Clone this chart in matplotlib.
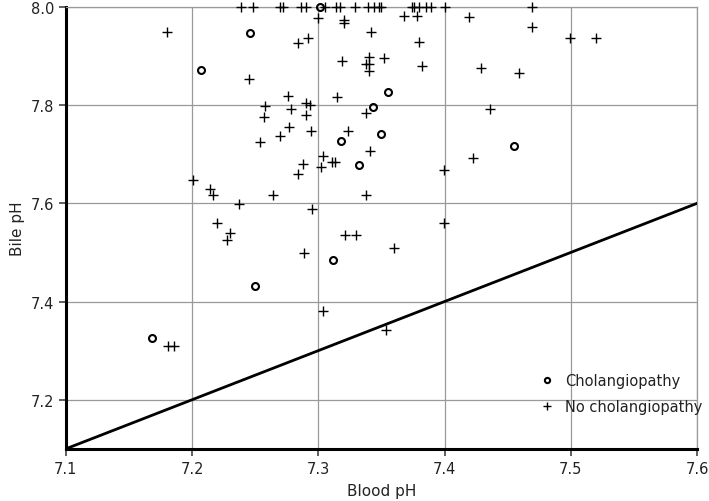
import numpy as np
import matplotlib
matplotlib.use('Agg')
import matplotlib.pyplot as plt

# dados (pH sangue x pH bile)
chol_blood = [7.168, 7.207, 7.246, 7.301, 7.318, 7.355, 7.343, 7.350, 7.455, 7.332, 7.312, 7.250]
chol_bile = [7.326, 7.872, 7.947, 8.000, 7.728, 7.827, 7.797, 7.741, 7.716, 7.679, 7.484, 7.431]

# pontos no topo (bile pH = 8.0)
top_blood = [7.239, 7.248, 7.270, 7.272, 7.286, 7.290, 7.305, 7.314, 7.317, 7.329, 7.339,
             7.344, 7.348, 7.350, 7.374, 7.376, 7.380, 7.385, 7.389, 7.400, 7.469]

nochol_blood = [7.180, 7.245, 7.284, 7.292, 7.300, 7.320, 7.320, 7.368, 7.378, 7.419,
                7.342, 7.380, 7.319, 7.340, 7.3375, 7.340, 7.340, 7.352, 7.382, 7.4285,
                7.459, 7.469, 7.4995, 7.520, 7.276, 7.290, 7.293, 7.315, 7.258, 7.278,
                7.257, 7.290, 7.277, 7.270, 7.294, 7.254, 7.3375, 7.4364, 7.3235, 7.3406,
                7.4224, 7.304, 7.288, 7.311, 7.313, 7.302, 7.284, 7.3995, 7.2005, 7.2145,
                7.2164, 7.237, 7.264, 7.3375, 7.220, 7.230, 7.228, 7.295, 7.3995, 7.3214,
                7.3296, 7.3596, 7.289, 7.3037, 7.354, 7.181, 7.186]
nochol_bile = [7.949, 7.854, 7.927, 7.936, 7.978, 7.973, 7.968, 7.982, 7.982, 7.979,
               7.950, 7.928, 7.890, 7.899, 7.883, 7.883, 7.870, 7.897, 7.880, 7.875,
               7.866, 7.959, 7.937, 7.937, 7.818, 7.805, 7.801, 7.816, 7.799, 7.792,
               7.775, 7.780, 7.756, 7.738, 7.748, 7.726, 7.785, 7.792, 7.747, 7.706,
               7.692, 7.696, 7.680, 7.684, 7.685, 7.674, 7.659, 7.667, 7.647, 7.629,
               7.6175, 7.599, 7.6175, 7.6175, 7.560, 7.540, 7.526, 7.588, 7.560, 7.536,
               7.536, 7.510, 7.499, 7.3805, 7.342, 7.310, 7.310]

nochol_blood = top_blood + nochol_blood
nochol_bile = [8.0] * len(top_blood) + nochol_bile

x_ticks = [7.1, 7.2, 7.3, 7.4, 7.5, 7.6]
y_ticks = [7.2, 7.4, 7.6, 7.8, 8.0]

cor_texto = '#222222'
cor_grade = '#999999'

fig = plt.figure(figsize=(7.09, 5.02), dpi=100)
ax = fig.add_axes([0.093, 0.104, 0.890, 0.880])

# linha de identidade
ax.plot([7.1, 7.6], [7.1, 7.6], color='black', linewidth=2, zorder=3)

ax.plot(chol_blood, chol_bile, linestyle='none', marker='o', markersize=5,
        markerfacecolor='none', markeredgecolor='black', markeredgewidth=1.5,
        label='Cholangiopathy', clip_on=False, zorder=4)
ax.plot(nochol_blood, nochol_bile, linestyle='none', marker='+', markersize=7.5,
        color='black', markeredgewidth=1.0, label='No cholangiopathy',
        clip_on=False, zorder=4)

ax.set_xlim(7.1, 7.6)
ax.set_ylim(7.1, 8.0)
ax.set_xticks(x_ticks)
ax.set_xticklabels([f'{v:.1f}' for v in x_ticks])
ax.set_yticks(y_ticks)
ax.set_yticklabels([f'{v:.1f}' for v in y_ticks])

ax.grid(True, color=cor_grade, linewidth=0.9)
ax.set_axisbelow(True)

for s in ['top', 'right']:
    ax.spines[s].set_color(cor_grade)
    ax.spines[s].set_linewidth(0.9)
for s in ['left', 'bottom']:
    ax.spines[s].set_color('black')
    ax.spines[s].set_linewidth(2.2)

ax.tick_params(axis='both', direction='out', length=5, width=1.2,
               labelsize=10.5, labelcolor=cor_texto, color='#444444')
ax.set_xlabel('Blood pH', fontsize=11, color=cor_texto, labelpad=5)
ax.set_ylabel('Bile pH', fontsize=11, color=cor_texto, labelpad=4)

leg = ax.legend(loc='upper left', bbox_to_anchor=(0.74, 0.185), frameon=False,
                fontsize=10.5, handlelength=1.2, handletextpad=0.6,
                labelspacing=0.75, borderaxespad=0, markerscale=0.75)
for t in leg.get_texts():
    t.set_color(cor_texto)

fig.savefig('out.png', dpi=100)
